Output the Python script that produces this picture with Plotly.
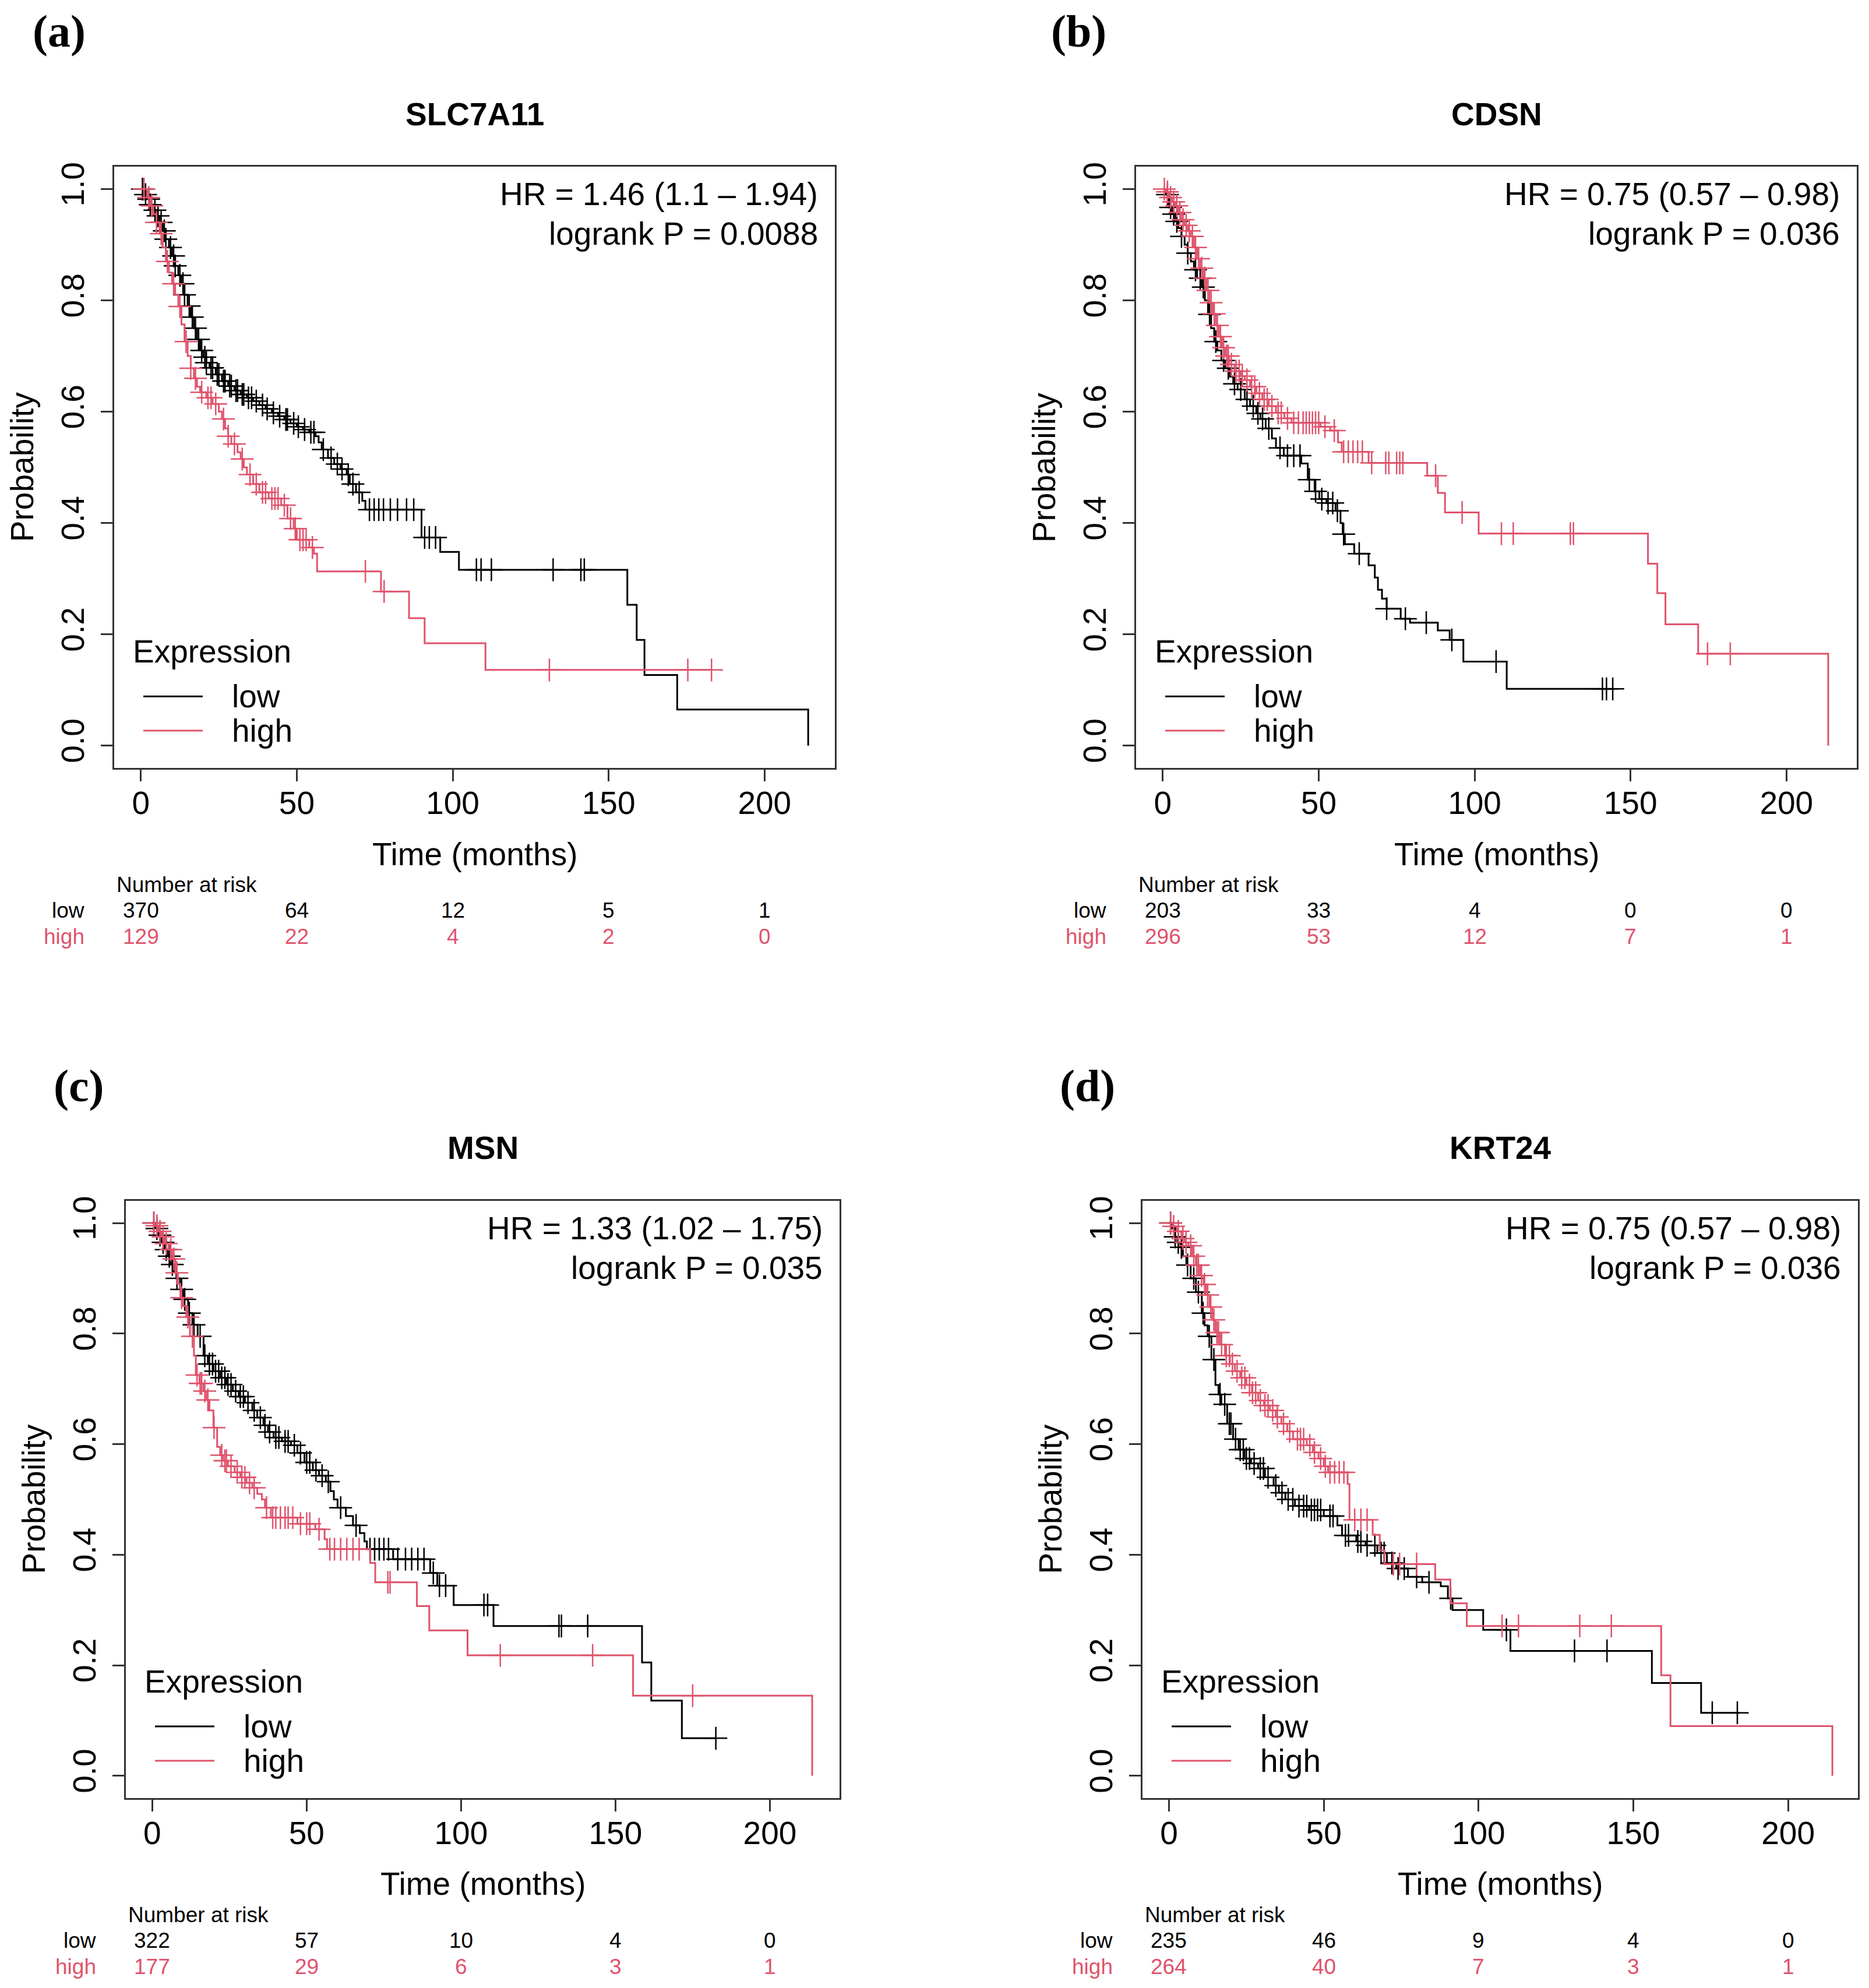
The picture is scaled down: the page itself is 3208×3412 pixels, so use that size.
import plotly.graph_objects as go

W, H = 3208, 3412
BLACK = "#000000"
RED = "#DF536B"
AXC = "#333333"
SANS = "Liberation Sans, Arial, sans-serif"
SERIF = "Liberation Serif, Times New Roman, serif"

# ---------------- data ----------------
genes = ["SLC7A11", "CDSN", "MSN", "KRT24"]
panel_tags = ["(a)", "(b)", "(c)", "(d)"]
hr_lines = ["HR = 1.46 (1.1 \u2013 1.94)", "HR = 0.75 (0.57 \u2013 0.98)",
            "HR = 1.33 (1.02 \u2013 1.75)", "HR = 0.75 (0.57 \u2013 0.98)"]
p_lines = ["logrank P = 0.0088", "logrank P = 0.036",
           "logrank P = 0.035", "logrank P = 0.036"]

x_ticks = [0, 50, 100, 150, 200]
y_ticks = [0.0, 0.2, 0.4, 0.6, 0.8, 1.0]
y_ticktext = ["0.0", "0.2", "0.4", "0.6", "0.8", "1.0"]

risk_times = [0, 50, 100, 150, 200]
risk_low = [[370, 64, 12, 5, 1], [203, 33, 4, 0, 0], [322, 57, 10, 4, 0], [235, 46, 9, 4, 0]]
risk_high = [[129, 22, 4, 2, 0], [296, 53, 12, 7, 1], [177, 29, 6, 3, 1], [264, 40, 7, 3, 1]]

# Panel (a) SLC7A11
a_low_steps = [(1, 0.99), (2, 0.982), (3, 0.972), (4, 0.962), (5, 0.952), (6, 0.94), (7, 0.925),
               (8, 0.91), (9, 0.895), (10, 0.88), (11, 0.862), (12, 0.845), (13, 0.83), (14, 0.81),
               (15, 0.79), (16, 0.77), (17, 0.75), (18, 0.73), (19, 0.71), (20, 0.698), (21, 0.688),
               (22, 0.679), (24, 0.667), (26, 0.655), (28, 0.646), (30, 0.638), (32, 0.631),
               (34, 0.625), (36, 0.619), (38, 0.612), (40, 0.605), (42, 0.598), (44, 0.592),
               (46, 0.586), (48, 0.579), (50, 0.573), (52, 0.568), (54, 0.563), (56, 0.556),
               (57, 0.545), (58, 0.532), (60, 0.517), (62, 0.506), (64, 0.497), (66, 0.487),
               (67, 0.47), (69, 0.455), (71, 0.44), (72, 0.424), (90, 0.374), (96, 0.348),
               (102, 0.316), (156, 0.253), (159, 0.19), (161.5, 0.127), (172, 0.065), (214, 0.0)]
a_low_end = 214
a_low_cens = [0.5, 1.5, 2.5, 3, 4.5, 5.5, 6.5, 7.5, 8, 9.5, 10.5, 11, 12.5, 13.5, 14, 15.5, 16.5,
              17.5, 18.5, 19.5, 20.5, 21, 22.5, 23, 24.5, 25, 26.5, 27, 28.5, 29, 30.5, 31, 32.5,
              33, 34.5, 35.5, 37, 39, 40.5, 42.5, 44.5, 46.5, 47, 49, 50.5, 52.5, 54.5, 55.5, 58.5,
              61, 63, 64.5, 66.5, 68, 70, 73.3, 74.8, 76.3, 77.8, 80, 82.3, 85.2, 87.5, 91, 92.5,
              94.5, 107.6, 109.1, 112.4, 132.2, 141.1, 142.2]
a_high_steps = [(2, 0.985), (3, 0.97), (4, 0.955), (5, 0.94), (6, 0.92), (7, 0.895), (8, 0.87),
                (9, 0.85), (10, 0.83), (11, 0.81), (12, 0.789), (13, 0.757), (14, 0.726), (15, 0.70),
                (16, 0.678), (17, 0.66), (18, 0.645), (19, 0.635), (21, 0.625), (23, 0.614), (25, 0.6),
                (26, 0.587), (27, 0.57), (28, 0.556), (29, 0.542), (31, 0.527), (32, 0.515), (33, 0.5),
                (34, 0.487), (36, 0.47), (38, 0.455), (41, 0.444), (45, 0.432), (47, 0.408),
                (49, 0.39), (50, 0.37), (54, 0.356), (55.5, 0.345), (56.5, 0.313), (77, 0.277),
                (86, 0.229), (91, 0.184), (110.5, 0.136)]
a_high_end = 183
a_high_cens = [1, 2.5, 3.5, 5, 6.5, 8.5, 10.5, 12.5, 14.5, 16, 17.5, 19.5, 21.5, 22.5, 24, 26.5, 28,
               30, 32.5, 35, 37, 39, 40, 42, 43, 44, 46, 48, 49.5, 51, 52, 53, 55, 72, 78, 131,
               175.4, 183]

# Panel (b) CDSN
b_low_steps = [(1, 0.99), (2, 0.967), (3, 0.955), (4, 0.942), (5, 0.93), (6, 0.915), (7, 0.9),
               (8, 0.885), (9, 0.87), (10, 0.855), (11, 0.84), (12.5, 0.824), (13.5, 0.8),
               (14.5, 0.775), (15.5, 0.75), (16.5, 0.726), (17.5, 0.71), (18.8, 0.692), (20, 0.678),
               (21.5, 0.663), (22.6, 0.65), (24, 0.64), (26.3, 0.622), (28, 0.61), (30, 0.597),
               (31.3, 0.587), (33, 0.57), (35, 0.552), (36.3, 0.535), (38.8, 0.521), (44.4, 0.507),
               (46.5, 0.478), (48.7, 0.457), (50.2, 0.443), (52.5, 0.436), (55.4, 0.422), (57, 0.40),
               (57.7, 0.38), (58.4, 0.362), (61.4, 0.345), (66, 0.324), (68, 0.302), (69, 0.28),
               (70.3, 0.264), (71.8, 0.246), (76.3, 0.228), (79.3, 0.221), (88.2, 0.207), (92, 0.19),
               (96.4, 0.151), (110.3, 0.102)]
b_low_end = 144.3
b_low_cens = [1.5, 2.5, 3.5, 4.5, 6, 8, 10.5, 12, 13, 15, 17, 19.5, 21, 23, 25, 27, 29, 30.5, 32,
              34, 37.6, 40, 42, 44, 47, 49, 51, 53, 54.5, 56, 58, 63, 71.8, 77.8, 84.5, 92.7,
              106.9, 141, 142.3, 144.3]
b_high_steps = [(1, 0.995), (2, 0.985), (3, 0.977), (4, 0.97), (5, 0.958), (6, 0.945), (7, 0.935),
                (8, 0.925), (9, 0.915), (10, 0.895), (11, 0.875), (12, 0.858), (13, 0.84),
                (14, 0.818), (15, 0.796), (16, 0.776), (17, 0.755), (18, 0.735), (19, 0.715),
                (20, 0.7), (21.3, 0.685), (23, 0.673), (25, 0.664), (26.3, 0.657), (28, 0.645),
                (30, 0.633), (31.9, 0.622), (34, 0.61), (36.3, 0.598), (39, 0.588), (41.3, 0.58),
                (50.6, 0.573), (53.7, 0.566), (56.2, 0.545), (57.4, 0.528), (66, 0.508),
                (84.8, 0.485), (88.2, 0.454), (90.5, 0.419), (101.3, 0.381), (155.6, 0.327),
                (158.6, 0.274), (161.2, 0.218), (171.7, 0.165), (213.4, 0.0)]
b_high_end = 213.4
b_high_cens = [0.5, 1.5, 2.5, 3.5, 4.5, 5.5, 6.5, 7.5, 8.5, 9.5, 10.5, 11.5, 12.5, 13.5, 14.5,
               15.5, 16.5, 17.5, 18.5, 19.5, 20.5, 21, 22, 23.5, 24.5, 25.5, 27, 28.5, 29.5, 31,
               32.5, 33.5, 35, 37, 38, 40, 42, 43.5, 45, 46, 47, 48, 49, 50, 52, 55, 58, 59.5, 61,
               62.5, 64, 67, 71.5, 72.5, 75, 76, 77, 87.5, 96, 108.6, 112.4, 130.7, 131.7, 174.7,
               182]

# Panel (c) MSN
c_low_steps = [(1, 0.99), (2, 0.978), (3, 0.965), (4, 0.952), (5, 0.94), (6, 0.925), (7, 0.912),
               (7.8, 0.9), (9, 0.88), (10, 0.862), (11.6, 0.837), (13, 0.816), (14.7, 0.795),
               (16.6, 0.76), (18, 0.745), (19.8, 0.732), (22, 0.72), (24, 0.708), (26.1, 0.696),
               (28, 0.686), (30, 0.675), (32.4, 0.661), (34, 0.648), (36, 0.634), (37.5, 0.622),
               (39.3, 0.612), (42, 0.605), (44.9, 0.598), (47, 0.584), (49.3, 0.567), (52, 0.553),
               (54, 0.543), (56.2, 0.532), (57.7, 0.515), (58.8, 0.5), (60, 0.485), (62.7, 0.47),
               (65, 0.453), (67.2, 0.439), (68.7, 0.424), (69.5, 0.41), (78, 0.392), (90, 0.367),
               (92.3, 0.344), (97.6, 0.309), (110.5, 0.271), (158.6, 0.205), (161.6, 0.136),
               (171.5, 0.068)]
c_low_end = 182.5
c_low_cens = [0.5, 1.5, 2.5, 3.5, 4.5, 5.5, 6.5, 8, 9.5, 10.5, 12, 13.5, 15.5, 17, 18.5, 19.5,
              20.5, 21.5, 22.5, 23.5, 24.5, 25.5, 27, 28.5, 29.5, 31, 33, 35, 36.5, 38, 40, 41, 43,
              44, 46, 48, 50, 51, 53, 55, 57, 61, 66, 70.5, 72, 73.5, 75, 76.5, 79.5, 82, 84, 86,
              88, 91, 93, 95, 107.4, 108.6, 131.7, 132.5, 141, 182.5]
c_high_steps = [(1, 0.995), (2, 0.985), (3, 0.975), (4, 0.963), (5.3, 0.952), (6.5, 0.935),
                (7.5, 0.91), (8.3, 0.89), (9.1, 0.865), (10, 0.85), (11, 0.83), (12.2, 0.795),
                (13.5, 0.76), (14.1, 0.725), (15.3, 0.71), (16.6, 0.696), (17.5, 0.68),
                (18.5, 0.661), (19.8, 0.63), (21, 0.595), (22, 0.58), (22.9, 0.57), (24.5, 0.56),
                (26.7, 0.549), (28.5, 0.54), (30.5, 0.53), (32.4, 0.521), (34, 0.51), (35.5, 0.5),
                (36.5, 0.485), (38.4, 0.467), (47, 0.456), (52.8, 0.446), (55.8, 0.428),
                (56.6, 0.41), (70.6, 0.385), (72.2, 0.35), (85.7, 0.307), (89.7, 0.263),
                (102.1, 0.218), (155.7, 0.145), (213.7, 0.0)]
c_high_end = 213.7
c_high_cens = [0.5, 1.5, 2.5, 3.5, 4.5, 6, 7, 8, 9.5, 11.5, 13, 14.5, 15.5, 16, 17, 18, 20, 22.5,
               23.5, 24, 25.5, 27.5, 29, 30, 31.5, 33, 37, 39, 40, 41.5, 43, 44, 45.5, 48, 50, 51,
               54, 57.5, 59, 61, 63, 65, 67, 76.3, 77, 112.7, 142.6, 175]

# Panel (d) KRT24
d_low_steps = [(1, 0.99), (2, 0.975), (2.7, 0.965), (3.7, 0.956), (4.5, 0.94), (5.6, 0.924),
               (7, 0.9), (8.7, 0.875), (10.6, 0.837), (11.5, 0.815), (12.5, 0.795), (13.7, 0.753),
               (15, 0.707), (16, 0.69), (16.9, 0.672), (18.8, 0.637), (20.7, 0.609), (22.5, 0.59),
               (24.4, 0.574), (26.5, 0.565), (28.8, 0.556), (31, 0.54), (33.8, 0.525),
               (35.5, 0.512), (37.6, 0.5), (40.7, 0.488), (45.3, 0.481), (50, 0.47), (54.4, 0.453),
               (55.9, 0.435), (60.5, 0.424), (63.5, 0.417), (67.3, 0.403), (70.4, 0.385),
               (73.4, 0.375), (77.2, 0.36), (81.8, 0.35), (87.8, 0.343), (90.1, 0.321),
               (91.6, 0.3), (101.5, 0.264), (110.3, 0.226), (156, 0.168), (171.9, 0.114)]
d_low_end = 184.3
d_low_cens = [0.5, 2, 3, 4, 6, 8, 9.5, 11, 13, 14.5, 16.5, 18, 19.5, 20, 21.5, 23, 24, 25, 26,
              27.5, 29.5, 30.5, 32, 34.5, 36.5, 38.5, 40, 42, 43.5, 44.5, 46, 47, 48, 49, 52, 53,
              57, 58, 61, 62, 64, 66.5, 68.5, 69.5, 72, 74, 76, 80, 84, 91, 109, 131, 141.5,
              175.5, 183.6]
d_high_steps = [(1.2, 0.994), (2.5, 0.985), (4, 0.972), (5, 0.965), (6.2, 0.959), (7.5, 0.94),
                (8.7, 0.924), (10, 0.905), (11.2, 0.889), (12, 0.87), (13.1, 0.848), (14, 0.825),
                (15, 0.802), (16.5, 0.78), (18.1, 0.76), (19.7, 0.745), (21.3, 0.732), (23, 0.72),
                (25, 0.707), (26.8, 0.693), (28.8, 0.679), (30.7, 0.67), (32.6, 0.661),
                (34.5, 0.649), (36.3, 0.637), (38.2, 0.623), (40.1, 0.609), (44.5, 0.598),
                (46.5, 0.585), (48.3, 0.574), (50, 0.56), (51.4, 0.549), (57.7, 0.528),
                (58.3, 0.463), (65.8, 0.436), (68.1, 0.408), (69.6, 0.383), (86, 0.355),
                (90.9, 0.312), (96.2, 0.271), (159, 0.182), (162, 0.09), (214.3, 0.0)]
d_high_end = 214.3
d_high_cens = [0.5, 1.5, 3, 4.5, 5.5, 7, 8, 9, 9.5, 10.5, 11.5, 12.5, 13.5, 14.5, 15.5, 16, 17,
               18.5, 19.5, 20.5, 22, 23.5, 24.5, 26, 27, 28, 29.5, 31, 32, 33.5, 35, 37, 39, 41.5,
               42.5, 43.5, 45.5, 47, 49, 50.5, 52, 53.5, 55, 56.5, 60, 62, 64, 72.5, 74.5, 80,
               107.6, 112.9, 132.7, 142.9]

series = [
    [(a_low_steps, a_low_end, a_low_cens), (a_high_steps, a_high_end, a_high_cens)],
    [(b_low_steps, b_low_end, b_low_cens), (b_high_steps, b_high_end, b_high_cens)],
    [(c_low_steps, c_low_end, c_low_cens), (c_high_steps, c_high_end, c_high_cens)],
    [(d_low_steps, d_low_end, d_low_cens), (d_high_steps, d_high_end, d_high_cens)],
]

# ---------------- layout (pixel boxes: left, top, right, bottom) ----------------
boxes = [(196, 279, 1433, 1313), (1950, 279, 3187, 1313),
         (216, 2058, 1441, 3085), (1961, 2058, 3189, 3085)]
tag_pos = [(102, 46), (1852, 46), (135, 1860), (1866, 1860)]


def px(x):
    return x / W


def py(y):
    return 1 - y / H


def surv_at(steps, t):
    s = 1.0
    for ti, si in steps:
        if ti <= t:
            s = si
        else:
            break
    return s


fig = go.Figure()
annotations = []
shapes = []
FS = 55

for i in range(4):
    L, T, R, B = boxes[i]
    sfx = "" if i == 0 else str(i + 1)
    xa, ya = "x" + sfx, "y" + sfx
    for (steps, end, cens), col in zip(series[i], [BLACK, RED]):
        xs = [0] + [t for t, s in steps]
        ys = [1.0] + [s for t, s in steps]
        if end > xs[-1]:
            xs.append(end)
            ys.append(ys[-1])
        fig.add_trace(go.Scatter(x=xs, y=ys, mode="lines", line=dict(color=col, width=3, shape="hv"),
                                 xaxis=xa, yaxis=ya, showlegend=False, hoverinfo="skip"))
        fig.add_trace(go.Scatter(x=cens, y=[surv_at(steps, c) for c in cens], mode="markers",
                                 marker=dict(symbol="cross-thin", size=28,
                                             line=dict(width=2.5, color=col), color=col),
                                 xaxis=xa, yaxis=ya, showlegend=False, hoverinfo="skip"))

    axis_common = dict(showline=True, mirror=True, linecolor=AXC, linewidth=3, ticks="outside",
                       ticklen=20, tickwidth=3, tickcolor=AXC, showgrid=False, zeroline=False,
                       tickfont=dict(family=SANS, size=FS, color="black"))
    fig.layout["xaxis" + sfx] = dict(domain=[px(L), px(R)], range=[-8.56, 222.56],
                                     tickvals=x_ticks, anchor=ya, ticklabelstandoff=-10,
                                     **axis_common)
    fig.layout["yaxis" + sfx] = dict(domain=[py(B), py(T)], range=[-0.04, 1.04],
                                     tickvals=y_ticks, ticktext=y_ticktext, tickangle=-90,
                                     anchor=xa, ticklabelstandoff=7, **axis_common)

    cx = (L + R) / 2
    # panel tag
    annotations.append(dict(x=px(tag_pos[i][0]), y=py(tag_pos[i][1]), text="<b>" + panel_tags[i] + "</b>",
                            font=dict(family=SERIF, size=78, color="black"), xanchor="center", yanchor="middle"))
    # title
    annotations.append(dict(x=px(cx), y=py(T - 91), text="<b>" + genes[i] + "</b>",
                            font=dict(family=SANS, size=55, color="black"), xanchor="center", yanchor="middle"))
    # HR text
    annotations.append(dict(x=px(R - 27), y=py(T + 47), text=hr_lines[i],
                            font=dict(family=SANS, size=FS, color="black"), xanchor="right", yanchor="middle"))
    annotations.append(dict(x=px(R - 27), y=py(T + 115), text=p_lines[i],
                            font=dict(family=SANS, size=FS, color="black"), xanchor="right", yanchor="middle"))
    # axis titles
    annotations.append(dict(x=px(L - 158), y=py((T + B) / 2), text="Probability", textangle=-90,
                            font=dict(family=SANS, size=FS, color="black"), xanchor="center", yanchor="middle"))
    annotations.append(dict(x=px(cx), y=py(B + 148), text="Time (months)",
                            font=dict(family=SANS, size=FS, color="black"), xanchor="center", yanchor="middle"))
    # legend
    annotations.append(dict(x=px(L + 30), y=py(B - 200), text="Expression",
                            font=dict(family=SANS, size=FS, color="black"), xanchor="left", yanchor="middle"))
    for lab, col, off in [("low", BLACK, 123), ("high", RED, 64)]:
        annotations.append(dict(x=px(L + 200), y=py(B - off), text=lab,
                                font=dict(family=SANS, size=FS, color="black"), xanchor="left", yanchor="middle"))
        shapes.append(dict(type="line", xref="paper", yref="paper", x0=px(L + 50), x1=px(L + 152),
                           y0=py(B - off), y1=py(B - off), line=dict(color=col, width=3)))
    # number at risk table
    annotations.append(dict(x=px(L + 2), y=py(B + 201), text="Number at risk",
                            font=dict(family=SANS, size=37, color="black"), xanchor="left", yanchor="middle"))
    for lab, col, off, vals in [("low", BLACK, 245, risk_low[i]), ("high", RED, 290, risk_high[i])]:
        annotations.append(dict(x=px(L - 49), y=py(B + off), text=lab,
                                font=dict(family=SANS, size=37, color=col), xanchor="right", yanchor="middle"))
        for t, v in zip(risk_times, vals):
            annotations.append(dict(x=t, xref=xa, y=py(B + off), yref="paper", text=str(v),
                                    font=dict(family=SANS, size=37, color=col), xanchor="center",
                                    yanchor="middle"))

for a in annotations:
    a.setdefault("xref", "paper")
    a.setdefault("yref", "paper")
    a["showarrow"] = False

fig.update_layout(width=W, height=H, margin=dict(l=0, r=0, t=0, b=0, pad=0),
                  paper_bgcolor="white", plot_bgcolor="white",
                  annotations=annotations, shapes=shapes, showlegend=False)

fig.write_html("out.html")
